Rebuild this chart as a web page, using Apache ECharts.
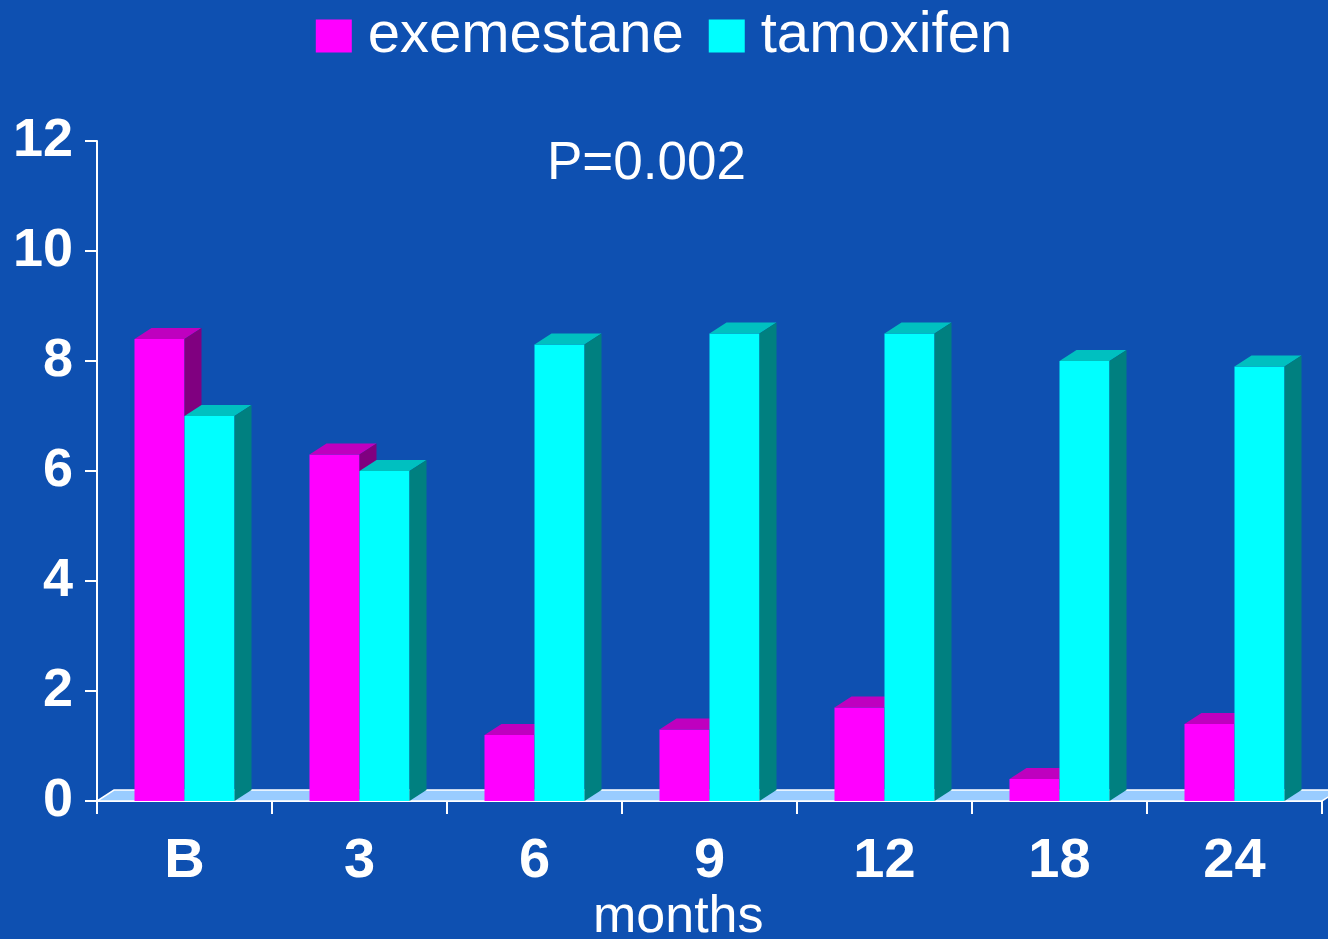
<!DOCTYPE html>
<html>
<head>
<meta charset="utf-8">
<script src="https://cdn.jsdelivr.net/npm/echarts@6/dist/echarts.min.js"></script>
<style>
  html, body { margin: 0; padding: 0; background: #0e50b1; }
  #chart { width: 1328px; height: 939px; }
</style>
</head>
<body>
<div id="chart"></div>
<script>
const months = ["B", "3", "6", "9", "12", "18", "24"];
const exemestane = [8.4, 6.3, 1.2, 1.3, 1.7, 0.4, 1.4];
const tamoxifen = [7.0, 6.0, 8.3, 8.5, 8.5, 8.0, 7.9];

const font = "'Liberation Sans', Arial, sans-serif";

// bar geometry relative to category band (175px band -> 50px bar, 17x11 depth)
const barFrac = 50 / 175;
const depthX = 17 / 50;
const depthY = 11 / 50;

const bar3d = (slot, front, top, side) => (params, api) => {
  const t = api.coord([api.value(0), api.value(1)]);
  const b = api.coord([api.value(0), 0]);
  const band = api.size([1, 0])[0];
  const w = band * barFrac;
  const dx = w * depthX;
  const dy = w * depthY;
  const x0 = t[0] - w + slot * w;
  return {
    type: "group",
    children: [
      { type: "rect", shape: { x: x0, y: t[1], width: w, height: b[1] - t[1] }, style: { fill: front } },
      { type: "polygon", shape: { points: [[x0, t[1]], [x0 + w, t[1]], [x0 + w + dx, t[1] - dy], [x0 + dx, t[1] - dy]] }, style: { fill: top } },
      { type: "polygon", shape: { points: [[x0 + w, t[1]], [x0 + w + dx, t[1] - dy], [x0 + w + dx, b[1] - dy], [x0 + w, b[1]]] }, style: { fill: side } }
    ]
  };
};

const floorItem = (params, api) => {
  const cs = params.coordSys;
  const band = api.size([1, 0])[0];
  const dx = band * barFrac * depthX;
  const dy = band * barFrac * depthY;
  const y = cs.y + cs.height;
  return {
    type: "polygon",
    shape: { points: [[cs.x, y], [cs.x + cs.width, y], [cs.x + cs.width + dx, y - dy], [cs.x + dx, y - dy]] },
    style: { fill: "#99ccff", stroke: "#ffffff", lineWidth: 1.5 }
  };
};

const chart = echarts.init(document.getElementById("chart"));

chart.setOption({
  backgroundColor: "#0e50b1",
  animation: false,
  title: [
    {
      text: "P=0.002",
      left: 547,
      top: 138,
      padding: 0,
      textStyle: { color: "#ffffff", fontFamily: font, fontSize: 53, fontWeight: "normal" }
    },
    {
      text: "months",
      left: 593,
      top: 892,
      padding: 0,
      textStyle: { color: "#ffffff", fontFamily: font, fontSize: 52, fontWeight: "normal" }
    }
  ],
  legend: {
    top: 2,
    left: "center",
    itemWidth: 36,
    itemHeight: 33,
    itemGap: 25,
    icon: "rect",
    data: ["exemestane", "tamoxifen"],
    textStyle: { color: "#ffffff", fontFamily: font, fontSize: 58, padding: [0, 0, 0, 11] }
  },
  grid: { left: 97, right: 6, top: 141, bottom: 138 },
  xAxis: {
    type: "category",
    data: months,
    axisLine: { lineStyle: { color: "#ffffff", width: 2 } },
    axisTick: { show: true, length: 13, lineStyle: { color: "#ffffff", width: 2 } },
    axisLabel: { color: "#ffffff", fontFamily: font, fontSize: 56, fontWeight: "bold", margin: 33 }
  },
  yAxis: {
    type: "value",
    min: 0,
    max: 12,
    interval: 2,
    axisLine: { show: true, lineStyle: { color: "#ffffff", width: 2 } },
    axisTick: { show: true, length: 12, lineStyle: { color: "#ffffff", width: 2 } },
    splitLine: { show: false },
    axisLabel: { color: "#ffffff", fontFamily: font, fontSize: 54, fontWeight: "bold", margin: 24 }
  },
  series: [
    {
      name: "floor",
      type: "custom",
      renderItem: floorItem,
      data: [[0, 0]],
      z: 1,
      silent: true
    },
    {
      name: "exemestane",
      type: "custom",
      itemStyle: { color: "#ff00ff" },
      renderItem: bar3d(0, "#ff00ff", "#bf00bf", "#800080"),
      encode: { x: 0, y: 1 },
      data: exemestane.map((v, i) => [i, v]),
      z: 2
    },
    {
      name: "tamoxifen",
      type: "custom",
      itemStyle: { color: "#00ffff" },
      renderItem: bar3d(1, "#00ffff", "#00c0c0", "#008080"),
      encode: { x: 0, y: 1 },
      data: tamoxifen.map((v, i) => [i, v]),
      z: 3
    }
  ]
});
</script>
</body>
</html>
